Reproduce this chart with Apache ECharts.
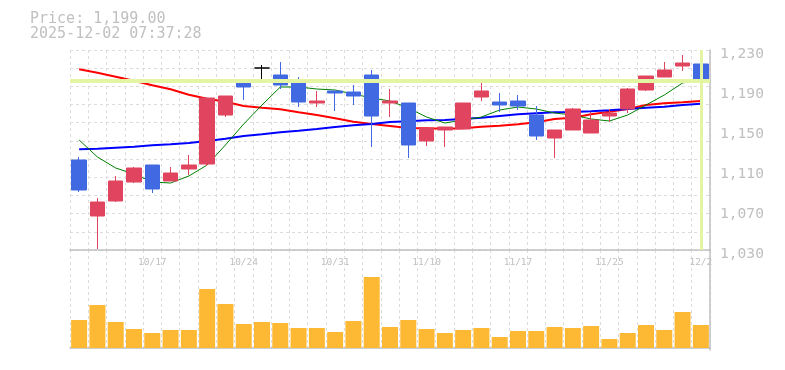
<!DOCTYPE html>
<html>
<head>
<meta charset="utf-8">
<script src="https://cdn.jsdelivr.net/npm/echarts@6/dist/echarts.min.js"></script>
<style>
html,body{margin:0;padding:0;background:#fff;}
#chart{width:785px;height:370px;}
</style>
</head>
<body>
<div id="chart"></div>
<script>
const dates = ['10/10','10/14','10/15','10/16','10/17','10/20','10/21','10/22','10/23','10/24',
  '10/27','10/28','10/29','10/30','10/31','11/4','11/5','11/6','11/7','11/10',
  '11/11','11/12','11/13','11/14','11/17','11/18','11/19','11/20','11/21','11/25',
  '11/26','11/27','11/28','12/1','12/2'];
const opens  = [1120,1064,1079,1098,1115,1099,1111,1116,1165,1199,1212,1205,1200,1177,1189,1188,1205,1177,1177,1139,1150,1151,1183,1178,1179,1165,1142,1150,1147,1164,1171,1190,1203,1214,1216];
const closes = [1090,1078,1099,1112,1091,1107,1115,1182,1184,1193,1212,1195,1178,1179,1187,1184,1164,1179,1135,1152,1153,1177,1189,1175,1174,1144,1150,1171,1160,1167,1191,1204,1210,1217,1199];
const lows   = [1088,1031,1078,1097,1087,1099,1105,1114,1163,1180,1201,1191,1173,1173,1169,1175,1133,1163,1122,1134,1133,1151,1179,1168,1170,1140,1122,1150,1147,1158,1167,1189,1203,1209,1196];
const highs  = [1123,1082,1104,1113,1115,1113,1125,1182,1184,1199,1215,1218,1203,1189,1189,1195,1210,1191,1177,1153,1153,1177,1200,1187,1185,1174,1150,1172,1168,1171,1192,1204,1218,1225,1217];
const maShort = [1140,1123,1112,1106,1098,1097,1104,1115,1135,1156,1175,1193,1193,1191,1190,1186,1182,1179,1172,1163,1157,1160,1163,1170,1173,1171,1167,1165,1161,1159,1165,1175,1185,1197,1201];
const maMid = [1130.7,1131.3,1132.3,1133.3,1134.7,1135.7,1137,1139,1141.3,1144,1145.7,1147.7,1149.3,1151,1153,1154.7,1156,1158,1158.7,1159.7,1160,1161,1162.3,1164,1165.7,1166.7,1167.7,1168,1168.7,1169.7,1171,1172.3,1173.3,1175,1176.3];
const maLong = [1210.7,1207.3,1203.3,1199.3,1194.7,1190.7,1185.3,1181.3,1178.3,1174,1172.3,1170.7,1167.7,1165,1161.7,1158.3,1156,1154,1152,1151.7,1151.3,1151.7,1153.3,1154.3,1155.7,1157.7,1161,1162.3,1165.7,1168.3,1171,1175,1176.7,1177.7,1179];
const volumes = [28,43,26,19,15,18,18,59,44,24,26,25,20,20,16,27,71,21,28,19,15,18,20,11,17,17,21,20,22,9,15,23,18,36,23];
const priceTicks = [1030,1070,1110,1150,1190,1230];
const currentPrice = 1199;
const titleText = 'Price: 1,199.00\n2025-12-02 07:37:28';

const mono = 'DejaVu Sans Mono';
const gray = '#c0c0c0';
const gridDash = {color:'#dcdcdc', type:[3,3], width:1};

const candleData = opens.map((o,i)=>[o, closes[i], lows[i], highs[i]]);
const last = dates.length - 1;

const chart = echarts.init(document.getElementById('chart'), null, {renderer:'canvas'});
chart.setOption({
  animation:false,
  backgroundColor:'#fff',
  title:{
    text:titleText, left:30, top:12, padding:0,
    textStyle:{fontFamily:mono, fontSize:15, fontWeight:'normal', color:gray, lineHeight:15}
  },
  grid:[
    {left:70, right:75, top:50, height:200},
    {left:70, right:75, top:250, height:100}
  ],
  xAxis:[
    {type:'category', gridIndex:0, data:dates, boundaryGap:true,
     axisLine:{show:true, lineStyle:{color:gray, width:1.5}},
     axisTick:{show:false},
     axisLabel:{interval:(idx)=>((last-idx)%5===0), color:gray, fontFamily:mono, fontSize:9.5, margin:8},
     splitLine:{show:true, interval:0, lineStyle:gridDash}},
    {type:'category', gridIndex:1, data:dates, boundaryGap:true,
     axisLine:{show:true, lineStyle:{color:gray, width:1.5}},
     axisTick:{show:false}, axisLabel:{show:false},
     splitLine:{show:true, interval:0, lineStyle:gridDash}}
  ],
  yAxis:[
    {type:'value', gridIndex:0, position:'right', min:priceTicks[0], max:priceTicks[priceTicks.length-1], interval:40,
     axisLine:{show:true, lineStyle:{color:gray, width:1.5}},
     axisTick:{show:false}, splitLine:{show:false},
     axisLabel:{color:gray, fontFamily:mono, fontSize:14.6, margin:10, verticalAlign:'top', lineHeight:8,
       formatter:(v)=>v.toLocaleString('en-US')}},
    {type:'value', gridIndex:0, position:'left', min:0, max:11, interval:1,
     axisLine:{show:false}, axisTick:{show:false}, axisLabel:{show:false},
     splitLine:{show:true, lineStyle:gridDash}},
    {type:'value', gridIndex:1, position:'right', min:-2, max:98,
     axisLine:{show:true, lineStyle:{color:gray, width:1.5}},
     axisTick:{show:false}, axisLabel:{show:false}, splitLine:{show:false}}
  ],
  series:[
    {type:'line', xAxisIndex:0, yAxisIndex:0, data:[], z:1, silent:true,
     markLine:{symbol:'none', silent:true, label:{show:false}, animation:false,
       lineStyle:{color:'#e3f5a2', type:'solid'},
       data:[{yAxis:currentPrice, lineStyle:{width:4}}, {xAxis:dates[last], lineStyle:{width:3}}]}},
    {type:'line', xAxisIndex:0, yAxisIndex:0, data:maLong, showSymbol:false, z:2,
     lineStyle:{color:'#ff0000', width:2}},
    {type:'line', xAxisIndex:0, yAxisIndex:0, data:maMid, showSymbol:false, z:2,
     lineStyle:{color:'#0000ff', width:2}},
    {type:'line', xAxisIndex:0, yAxisIndex:0, data:maShort, showSymbol:false, z:2,
     lineStyle:{color:'#008000', width:1}},
    {type:'candlestick', xAxisIndex:0, yAxisIndex:0, data:candleData, barWidth:15, z:3,
     itemStyle:{color:'#e0445e', color0:'#4169e1', borderColor:'#e0445e', borderColor0:'#4169e1',
       borderColorDoji:'#000000', borderWidth:1}},
    {type:'bar', xAxisIndex:1, yAxisIndex:2, data:volumes, barWidth:16,
     itemStyle:{color:'#fdb933'}}
  ]
});
</script>
</body>
</html>
